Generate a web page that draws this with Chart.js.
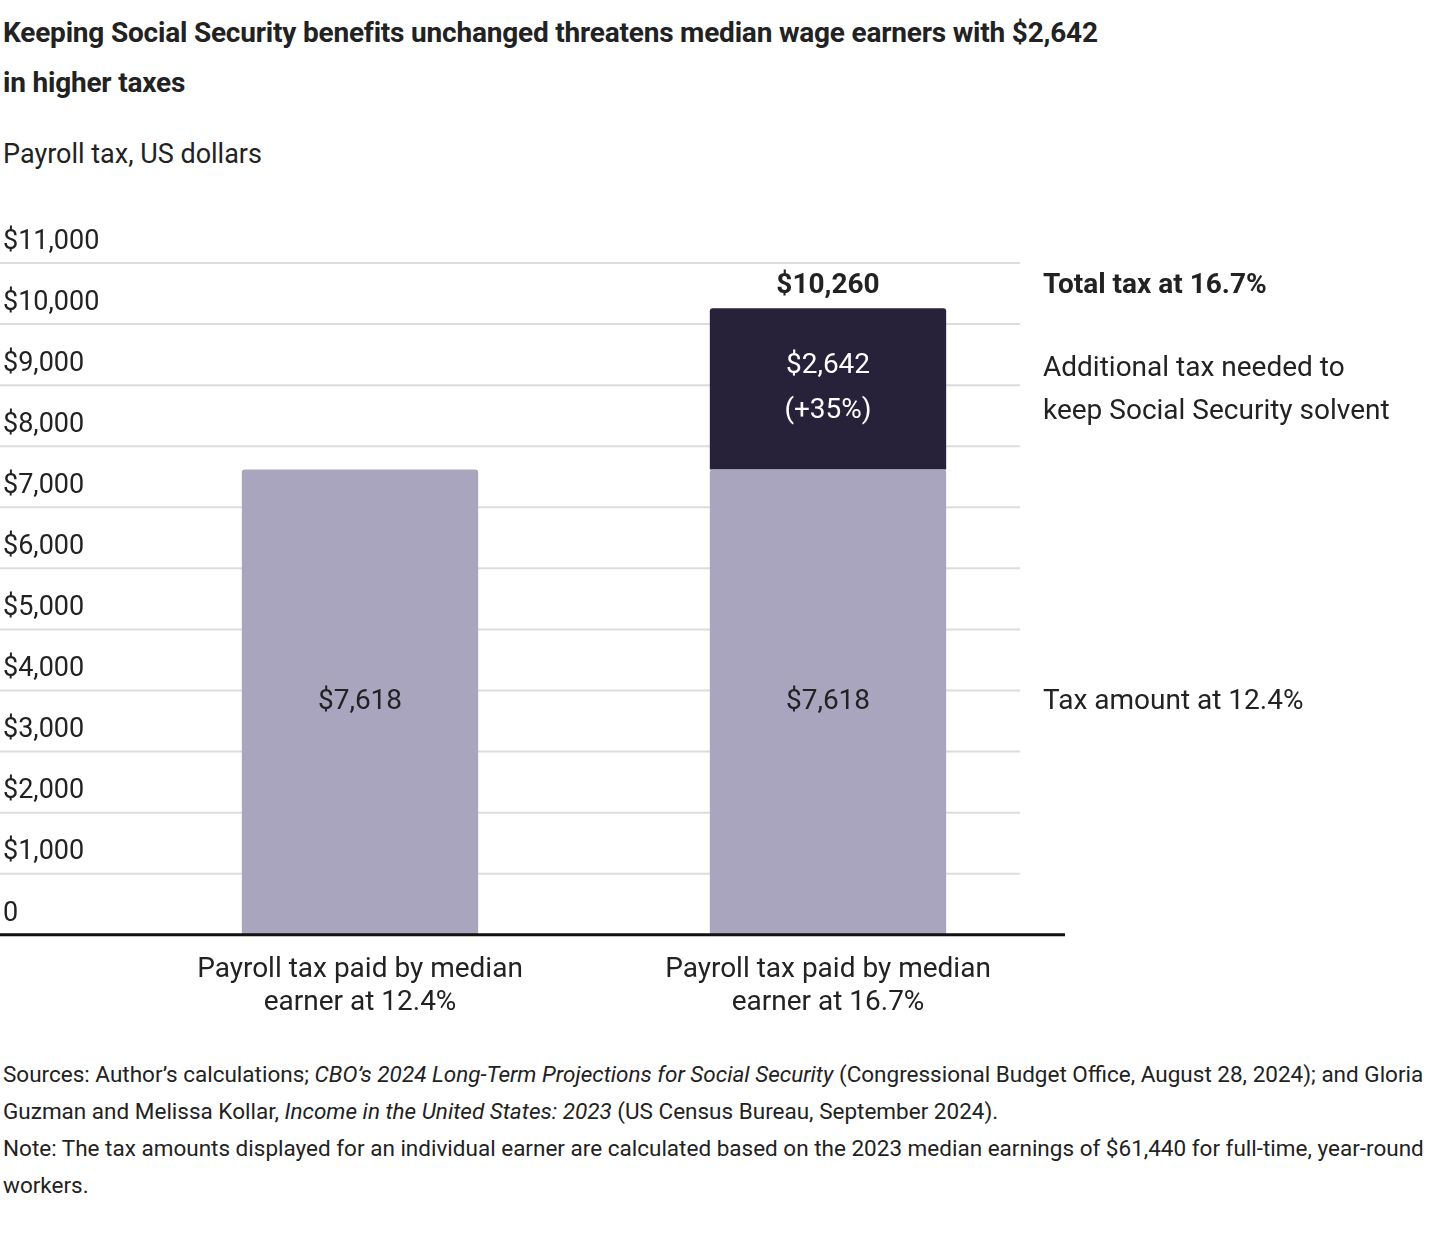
<!DOCTYPE html>
<html><head><meta charset="utf-8">
<script src="https://cdn.jsdelivr.net/npm/chart.js@4"></script>
<style>
body{margin:0;background:#fff;font-family:Roboto,"Noto Sans",sans-serif;color:#222;width:1456px;height:1250px;position:relative;overflow:hidden}
.t{position:absolute;left:3px;top:8px;font-weight:700;font-size:28px;line-height:50px;color:#222;letter-spacing:-0.2px}
.s{position:absolute;left:3px;top:138px;font-size:27px}
#wrap{position:absolute;left:0;top:200px;width:1456px;height:830px}
.n{position:absolute;left:3px;top:1056px;font-size:22.5px;line-height:37px;width:1440px}
</style></head><body>
<div class="t">Keeping Social Security benefits unchanged threatens median wage earners with $2,642<br>in higher taxes</div>
<div class="s">Payroll tax, US dollars</div>
<div id="wrap"><canvas id="c"></canvas></div>
<div class="n">Sources: Author’s calculations; <i>CBO’s 2024 Long-Term Projections for Social Security</i> (Congressional Budget Office, August 28, 2024); and Gloria Guzman and Melissa Kollar, <i>Income in the United States: 2023</i> (US Census Bureau, September 2024).<br>Note: The tax amounts displayed for an individual earner are calculated based on the 2023 median earnings of $61,440 for full-time, year-round workers.</div>
<script>
const categories=[['Payroll tax paid by median','earner at 12.4%'],['Payroll tax paid by median','earner at 16.7%']];
const baseTax=[7618,7618];
const extraTax=[0,2642];
const totals=[7618,10260];
const yTicks=[0,1000,2000,3000,4000,5000,6000,7000,8000,9000,10000,11000];
const fmt=v=>v===0?'0':'$'+v.toLocaleString('en-US');
const FONT='Roboto';

const deco={id:'deco',
 beforeDatasetsDraw(ch){
  const c=ch.ctx,y=ch.scales.y;
  c.save();
  c.strokeStyle='#dcdcdc';c.lineWidth=2;
  c.fillStyle='#222';c.font='27px '+FONT;c.textAlign='left';c.textBaseline='middle';
  yTicks.forEach(v=>{
    const p=y.getPixelForValue(v);
    if(v>0){c.beginPath();c.moveTo(0,p);c.lineTo(1020,p);c.stroke();}
    c.fillText(fmt(v),3,p-21);
  });
  c.restore();
 },
 afterDatasetsDraw(ch){
  const c=ch.ctx,y=ch.scales.y,x=ch.scales.x;
  c.save();
  c.strokeStyle='#111';c.lineWidth=3;
  const p0=y.getPixelForValue(0);
  c.beginPath();c.moveTo(0,p0);c.lineTo(1065,p0);c.stroke();
  c.textAlign='center';c.textBaseline='middle';c.font='28px '+FONT;
  categories.forEach((_,i)=>{
    const cx=x.getPixelForValue(i);
    c.fillStyle='#222';
    c.fillText(fmt(baseTax[i]),cx,y.getPixelForValue(baseTax[i]/2));
    if(extraTax[i]>0){
      c.fillStyle='#fff';
      const mid=y.getPixelForValue(baseTax[i]+extraTax[i]/2);
      c.fillText(fmt(extraTax[i]),cx,mid-23);
      c.fillText('(+'+Math.round(extraTax[i]/baseTax[i]*100)+'%)',cx,mid+22);
      c.fillStyle='#222';c.font='bold 28px '+FONT;
      c.fillText(fmt(totals[i]),cx,y.getPixelForValue(totals[i])-22);
      c.font='28px '+FONT;
    }
  });
  c.textAlign='left';c.fillStyle='#222';
  c.font='bold 28px '+FONT;
  c.fillText('Total tax at 16.7%',1043,y.getPixelForValue(totals[1])-22);
  c.font='28px '+FONT;
  const m=y.getPixelForValue(baseTax[1]+extraTax[1]/2);
  c.fillText('Additional tax needed to',1043,m-20);
  c.fillText('keep Social Security solvent',1043,m+23);
  c.fillText('Tax amount at 12.4%',1043,y.getPixelForValue(baseTax[1]/2));
  c.restore();
 }};

new Chart(document.getElementById('c'),{
 type:'bar',
 data:{labels:categories,datasets:[
  {label:'Tax amount at 12.4%',data:baseTax,backgroundColor:'#a9a5be',borderRadius:{topLeft:3,topRight:3},borderSkipped:'bottom'},
  {label:'Additional tax',data:extraTax,backgroundColor:'#272139',borderRadius:{topLeft:3,topRight:3},borderSkipped:'bottom'}
 ]},
 options:{responsive:true,maintainAspectRatio:false,animation:false,
  layout:{padding:{left:126,right:394,top:63,bottom:0}},
  datasets:{bar:{barPercentage:0.505,categoryPercentage:1}},
  plugins:{legend:{display:false},tooltip:{enabled:false}},
  scales:{
   x:{stacked:true,grid:{display:false},border:{display:false},
      ticks:{color:'#222',font:{family:FONT,size:28},padding:10,maxRotation:0}},
   y:{stacked:true,min:0,max:11000,display:false}
  }},
 plugins:[deco]
});
</script>
</body></html>
